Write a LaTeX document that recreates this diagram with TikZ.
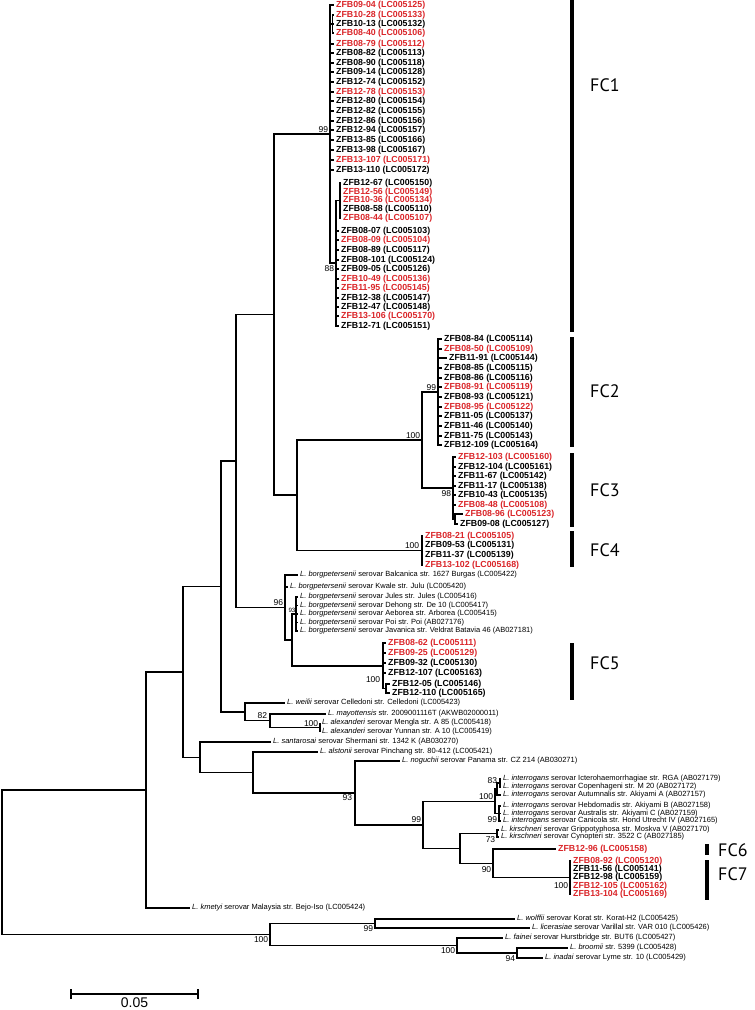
\documentclass[tikz,border=0pt]{standalone}
\usepackage{fontspec}
\setmainfont{Liberation Sans}
\newfontfamily\fcfont{PT Sans}
\definecolor{fcred}{RGB}{218,37,41}
\begin{document}
\begin{tikzpicture}[x=1pt,y=-1pt,
  br/.style={line width=1.4pt},
  zb/.style={anchor=west, inner xsep=2pt, inner ysep=0pt, font=\bfseries\fontsize{8.8}{9}\selectfont},
  zr/.style={zb, text=fcred},
  sp/.style={anchor=west, inner xsep=2pt, inner ysep=0pt, font=\fontsize{7.5}{8}\selectfont},
  bs/.style={inner sep=0.6pt, font=\fontsize{8.5}{9}\selectfont},
  bss/.style={inner sep=0.4pt, font=\fontsize{6.2}{7}\selectfont},
  fcbar/.style={line width=4.5pt},
  fclab/.style={anchor=west, inner sep=0pt, font=\fcfont\fontsize{18}{18}\selectfont}]
\useasboundingbox (0,0) rectangle (755,1010);
% ---------------- FC1 ----------------
\coordinate (f1) at (330,134);
\coordinate (s1) at (332.5,24);
\coordinate (n88) at (336,263);
\coordinate (s2) at (340,200.5);
\node[zr] (a01) at (334,5) {ZFB09-04 (LC005125)};
\node[zr] (a02) at (334,15) {ZFB10-28 (LC005133)};
\node[zb] (a03) at (334,24) {ZFB10-13 (LC005132)};
\node[zr] (a04) at (334,33) {ZFB08-40 (LC005106)};
\node[zr] (a05) at (334,44) {ZFB08-79 (LC005112)};
\node[zb] (a06) at (334,53) {ZFB08-82 (LC005113)};
\node[zb] (a07) at (334,63) {ZFB08-90 (LC005118)};
\node[zb] (a08) at (334,72) {ZFB09-14 (LC005128)};
\node[zb] (a09) at (334,82) {ZFB12-74 (LC005152)};
\node[zr] (a10) at (334,92) {ZFB12-78 (LC005153)};
\node[zb] (a11) at (334,101) {ZFB12-80 (LC005154)};
\node[zb] (a12) at (334,111) {ZFB12-82 (LC005155)};
\node[zb] (a13) at (334,121) {ZFB12-86 (LC005156)};
\node[zb] (a14) at (334,130) {ZFB12-94 (LC005157)};
\node[zb] (a15) at (334,140) {ZFB13-85 (LC005166)};
\node[zb] (a16) at (334,150) {ZFB13-98 (LC005167)};
\node[zr] (a17) at (334,160) {ZFB13-107 (LC005171)};
\node[zb] (a18) at (334,170) {ZFB13-110 (LC005172)};
\node[zb] (a19) at (341,183) {ZFB12-67 (LC005150)};
\node[zr] (a20) at (341,192) {ZFB12-56 (LC005149)};
\node[zr] (a21) at (341,200) {ZFB10-36 (LC005134)};
\node[zb] (a22) at (341,209) {ZFB08-58 (LC005110)};
\node[zr] (a23) at (341,218) {ZFB08-44 (LC005107)};
\node[zb] (a24) at (339,231) {ZFB08-07 (LC005103)};
\node[zr] (a25) at (339,240) {ZFB08-09 (LC005104)};
\node[zb] (a26) at (339,250) {ZFB08-89 (LC005117)};
\node[zb] (a27) at (339,260) {ZFB08-101 (LC005124)};
\node[zb] (a28) at (339,269) {ZFB09-05 (LC005126)};
\node[zr] (a29) at (339,279) {ZFB10-49 (LC005136)};
\node[zr] (a30) at (339,288) {ZFB11-95 (LC005145)};
\node[zb] (a31) at (339,298) {ZFB12-38 (LC005147)};
\node[zb] (a32) at (339,307) {ZFB12-47 (LC005148)};
\node[zr] (a33) at (339,316) {ZFB13-106 (LC005170)};
\node[zb] (a34) at (339,326) {ZFB12-71 (LC005151)};
\foreach \c in {a01,a05,a06,a07,a08,a09,a10,a11,a12,a13,a14,a15,a16,a17,a18} \draw[br] (f1) |- (\c.west);
\foreach \c in {a02,a03,a04} \draw[br] (s1) |- (\c.west);
\foreach \c in {a19,a20,a21,a22,a23} \draw[br] (s2) |- (\c.west);
\foreach \c in {a24,a25,a26,a27,a28,a29,a30,a31,a32,a33,a34} \draw[br] (n88) |- (\c.west);
\draw[br] (f1) |- (s1);
\draw[br] (f1) |- (n88);
\draw[br] (n88) |- (s2);
\node[bs, anchor=south east] (b99a) at (329,133) {99};
\node[bs, anchor=north east] (b88) at (335,265) {88};
% ---------------- FC2 / FC3 ----------------
\coordinate (f23) at (422,440);
\coordinate (f2) at (438,392);
\coordinate (f3) at (453,488);
\coordinate (s3) at (455,519);
\node[zb] (c01) at (442,339) {ZFB08-84 (LC005114)};
\node[zr] (c02) at (442,349) {ZFB08-50 (LC005109)};
\node[zb] (c03) at (447,358) {ZFB11-91 (LC005144)};
\node[zb] (c04) at (442,368) {ZFB08-85 (LC005115)};
\node[zb] (c05) at (442,378) {ZFB08-86 (LC005116)};
\node[zr] (c06) at (442,387) {ZFB08-91 (LC005119)};
\node[zb] (c07) at (442,397) {ZFB08-93 (LC005121)};
\node[zr] (c08) at (442,407) {ZFB08-95 (LC005122)};
\node[zb] (c09) at (442,416) {ZFB11-05 (LC005137)};
\node[zb] (c10) at (442,426) {ZFB11-46 (LC005140)};
\node[zb] (c11) at (442,436) {ZFB11-75 (LC005143)};
\node[zb] (c12) at (442,445) {ZFB12-109 (LC005164)};
\foreach \c in {c01,c02,c03,c04,c05,c06,c07,c08,c09,c10,c11,c12} \draw[br] (f2) |- (\c.west);
\node[zr] (d01) at (456,457) {ZFB12-103 (LC005160)};
\node[zb] (d02) at (456,467) {ZFB12-104 (LC005161)};
\node[zb] (d03) at (456,476) {ZFB11-67 (LC005142)};
\node[zb] (d04) at (456,486) {ZFB11-17 (LC005138)};
\node[zb] (d05) at (456,495) {ZFB10-43 (LC005135)};
\node[zr] (d06) at (456,505) {ZFB08-48 (LC005108)};
\node[zr] (d07) at (463,514) {ZFB08-96 (LC005123)};
\node[zb] (d08) at (458,524) {ZFB09-08 (LC005127)};
\foreach \c in {d01,d02,d03,d04,d05,d06} \draw[br] (f3) |- (\c.west);
\foreach \c in {d07,d08} \draw[br] (s3) |- (\c.west);
\draw[br] (f3) |- (s3);
\draw[br] (f23) |- (f2);
\draw[br] (f23) |- (f3);
\node[bs, anchor=south east] (b100a) at (421,439) {100};
\node[bs, anchor=south east] (b99b) at (437,391) {99};
\node[bs, anchor=north east] (b98) at (452,490) {98};
% ---------------- FC4 ----------------
\coordinate (f4) at (422,550.5);
\node[zr] (e01) at (423,536) {ZFB08-21 (LC005105)};
\node[zb] (e02) at (423,545.5) {ZFB09-53 (LC005131)};
\node[zb] (e03) at (423,555) {ZFB11-37 (LC005139)};
\node[zr] (e04) at (423,565) {ZFB13-102 (LC005168)};
\foreach \c in {e01,e02,e03,e04} \draw[br] (f4) |- (\c.west);
\node[bs, anchor=south east] (b100b) at (420,549) {100};
\coordinate (n297) at (297,495);
\coordinate (n274) at (274,314.5);
\draw[br] (n297) |- (f23);
\draw[br] (n297) |- (f4);
\draw[br] (n274) |- (f1);
\draw[br] (n274) |- (n297);
% ---------------- borgpetersenii / FC5 ----------------
\coordinate (n96) at (285,607.5);
\coordinate (np) at (292,640);
\coordinate (n93) at (296,614);
\coordinate (f5) at (383,666);
\coordinate (s5) at (386,688.5);
\node[sp] (g01) at (298,575) {\textit{L. borgpetersenii} serovar Balcanica str. 1627 Burgas (LC005422)};
\node[sp] (g02) at (288,587) {\textit{L. borgpetersenii} serovar Kwale str. Julu (LC005420)};
\node[sp] (g03) at (298,597) {\textit{L. borgpetersenii} serovar Jules str. Jules (LC005416)};
\node[sp] (g04) at (298,605.5) {\textit{L. borgpetersenii} serovar Dehong str. De 10 (LC005417)};
\node[sp] (g05) at (298,614) {\textit{L. borgpetersenii} serovar Aeborea str. Arborea (LC005415)};
\node[sp] (g06) at (298,622.5) {\textit{L. borgpetersenii} serovar Poi str. Poi (AB027176)};
\node[sp] (g07) at (298,631) {\textit{L. borgpetersenii} serovar Javanica str. Veldrat Batavia 46 (AB027181)};
\draw[br] (n96) |- (g01.west);
\draw[br] (n96) |- (g02.west);
\draw[br] (n96) |- (np);
\foreach \c in {g03,g04,g05,g06,g07} \draw[br] (n93) |- (\c.west);
\draw[br] (np) |- (n93);
\draw[br] (np) |- (f5);
\node[zr] (h01) at (386,643) {ZFB08-62 (LC005111)};
\node[zr] (h02) at (386,653) {ZFB09-25 (LC005129)};
\node[zb] (h03) at (386,663) {ZFB09-32 (LC005130)};
\node[zb] (h04) at (386,673) {ZFB12-107 (LC005163)};
\node[zb] (h05) at (390,684) {ZFB12-05 (LC005146)};
\node[zb] (h06) at (390,693) {ZFB12-110 (LC005165)};
\foreach \c in {h01,h02,h03,h04} \draw[br] (f5) |- (\c.west);
\foreach \c in {h05,h06} \draw[br] (s5) |- (\c.west);
\draw[br] (f5) |- (s5);
\node[bs, anchor=south east] (b96) at (284,606) {96};
\node[bss, anchor=south east] (b93a) at (296,613) {93};
\node[bs, anchor=north east] (b100c) at (381,676) {100};
\coordinate (n236) at (236,461);
\draw[br] (n236) |- (n274);
\draw[br] (n236) |- (n96);
% ---------------- weilii / alexanderi ----------------
\coordinate (nw) at (245,711.9);
\coordinate (n82) at (270,720.75);
\coordinate (nal) at (320,727.5);
\node[sp] (k01) at (285,703) {\textit{L. weilii} serovar Celledoni str. Celledoni (LC005423)};
\node[sp] (k02) at (326,714) {\textit{L. mayottensis} str. 2009001116T (AKWB02000011)};
\node[sp] (k03) at (320,723) {\textit{L. alexanderi} serovar Mengla str. A 85 (LC005418)};
\node[sp] (k04) at (320,732) {\textit{L. alexanderi} serovar Yunnan str. A 10 (LC005419)};
\draw[br] (nw) |- (k01.west);
\draw[br] (nw) |- (n82);
\draw[br] (n82) |- (k02.west);
\draw[br] (n82) |- (nal);
\draw[br] (nal) |- (k03.west);
\draw[br] (nal) |- (k04.west);
\node[bs, anchor=south east] (b82) at (268,719) {82};
\node[bs, anchor=south east] (b100d) at (319,727) {100};
\coordinate (n221) at (221,586.4);
\draw[br] (n221) |- (n236);
\draw[br] (n221) |- (nw);
% ---------------- santarosai ... kirschneri ----------------
\coordinate (nsa) at (200,757.2);
\coordinate (nas) at (253,772.5);
\coordinate (n93b) at (355,792.9);
\coordinate (n99c) at (423,824.8);
\coordinate (n100i) at (495,801.25);
\coordinate (nA) at (497,789);
\coordinate (n83) at (500,783);
\coordinate (n99d) at (499,813.5);
\coordinate (nK) at (460,848.4);
\coordinate (n73) at (497,833.5);
\coordinate (n90) at (493,863.25);
\coordinate (f7) at (570,877.5);
\node[sp] (m01) at (271,742) {\textit{L. santarosai} serovar Shermani str. 1342 K (AB030270)};
\node[sp] (m02) at (318,752) {\textit{L. alstonii} serovar Pinchang str. 80-412 (LC005421)};
\node[sp] (m03) at (400,761) {\textit{L. noguchii} serovar Panama str. CZ 214 (AB030271)};
\node[sp] (m04) at (501,779) {\textit{L. interrogans} serovar Icterohaemorrhagiae str. RGA (AB027179)};
\node[sp] (m05) at (501,787) {\textit{L. interrogans} serovar Copenhageni str. M 20 (AB027172)};
\node[sp] (m06) at (501,795) {\textit{L. interrogans} serovar Autumnalis str. Akiyami A (AB027157)};
\node[sp] (m07) at (501,806) {\textit{L. interrogans} serovar Hebdomadis str. Akiyami B (AB027158)};
\node[sp] (m08) at (501,813.5) {\textit{L. interrogans} serovar Australis str. Akiyami C (AB027159)};
\node[sp] (m09) at (501,821) {\textit{L. interrogans} serovar Canicola str. Hond Utrecht IV (AB027165)};
\node[sp] (m10) at (499,830) {\textit{L. kirschneri} serovar Grippotyphosa str. Moskva V (AB027170)};
\node[sp] (m11) at (499,837) {\textit{L. kirschneri} serovar Cynopteri str. 3522 C (AB027185)};
\node[zr] (p01) at (556,849) {ZFB12-96 (LC005158)};
\node[zr] (p02) at (571,861) {ZFB08-92 (LC005120)};
\node[zb] (p03) at (571,869) {ZFB11-56 (LC005141)};
\node[zb] (p04) at (571,877.5) {ZFB12-98 (LC005159)};
\node[zr] (p05) at (571,886) {ZFB12-105 (LC005162)};
\node[zr] (p06) at (571,894) {ZFB13-104 (LC005169)};
\draw[br] (nsa) |- (m01.west);
\draw[br] (nsa) |- (nas);
\draw[br] (nas) |- (m02.west);
\draw[br] (nas) |- (n93b);
\draw[br] (n93b) |- (m03.west);
\draw[br] (n93b) |- (n99c);
\draw[br] (n99c) |- (n100i);
\draw[br] (n99c) |- (nK);
\draw[br] (n100i) |- (nA);
\draw[br] (n100i) |- (n99d);
\draw[br] (nA) |- (n83);
\draw[br] (nA) |- (m06.west);
\draw[br] (n83) |- (m04.west);
\draw[br] (n83) |- (m05.west);
\foreach \c in {m07,m08,m09} \draw[br] (n99d) |- (\c.west);
\draw[br] (nK) |- (n73);
\draw[br] (nK) |- (n90);
\draw[br] (n73) |- (m10.west);
\draw[br] (n73) |- (m11.west);
\draw[br] (n90) |- (p01.west);
\draw[br] (n90) |- (f7);
\foreach \c in {p02,p03,p04,p05,p06} \draw[br] (f7) |- (\c.west);
\node[bs, anchor=north east] (b93b) at (353,794) {93};
\node[bs, anchor=south east] (b99c) at (422,823) {99};
\node[bs, anchor=south east] (b100e) at (494,800) {100};
\node[bs, anchor=east] (b83) at (498,781) {83};
\node[bs, anchor=east] (b99d) at (498,820) {99};
\node[bs, anchor=north east] (b73) at (496,836) {73};
\node[bs, anchor=north east] (b90) at (492,866) {90};
\node[bs, anchor=north east] (b100f) at (569,882) {100};
\coordinate (n183) at (183,671.8);
\draw[br] (n183) |- (n221);
\draw[br] (n183) |- (nsa);
% ---------------- kmetyi and root ----------------
\coordinate (n146) at (146,789.9);
\node[sp] (q01) at (190,908) {\textit{L. kmetyi} serovar Malaysia str. Bejo-Iso (LC005424)};
\draw[br] (n146) |- (n183);
\draw[br] (n146) |- (q01.west);
\coordinate (nroot) at (2,862.2);
\coordinate (nb) at (270,934.5);
\coordinate (n99w) at (375,923.5);
\coordinate (nfa) at (457,945.5);
\coordinate (n94) at (517,953);
\node[sp] (t01) at (515,919) {\textit{L. wolffii} serovar Korat str. Korat-H2 (LC005425)};
\node[sp] (t02) at (530,928) {\textit{L. licerasiae} serovar Varillal str. VAR 010 (LC005426)};
\node[sp] (t03) at (503,938) {\textit{L. fainei} serovar Hurstbridge str. BUT6 (LC005427)};
\node[sp] (t04) at (568,948) {\textit{L. broomii} str. 5399 (LC005428)};
\node[sp] (t05) at (543,958) {\textit{L. inadai} serovar Lyme str. 10 (LC005429)};
\draw[br] (nroot) |- (n146);
\draw[br] (nroot) |- (nb);
\draw[br] (nb) |- (n99w);
\draw[br] (nb) |- (nfa);
\draw[br] (n99w) |- (t01.west);
\draw[br] (n99w) |- (t02.west);
\draw[br] (nfa) |- (t03.west);
\draw[br] (nfa) |- (n94);
\draw[br] (n94) |- (t04.west);
\draw[br] (n94) |- (t05.west);
\node[bs, anchor=north east] (b100g) at (269,936) {100};
\node[bs, anchor=north east] (b99w) at (374,925) {99};
\node[bs, anchor=north east] (b100h) at (456,947) {100};
\node[bs, anchor=north east] (b94) at (516,955) {94};
% ---------------- scale bar ----------------
\coordinate (sb1) at (71,994);
\coordinate (sb2) at (198,994);
\draw[br] (sb1) -- (sb2);
\draw[br] ([yshift=-5pt]sb1) -- ([yshift=5pt]sb1);
\draw[br] ([yshift=-5pt]sb2) -- ([yshift=5pt]sb2);
\node[inner sep=0pt, font=\fontsize{14}{14}\selectfont] (sbl) at (134.5,1003) {0.05};
% ---------------- FC bars ----------------
\draw[fcbar] (572,0) -- (572,332);
\draw[fcbar] (572,337) -- (572,447);
\draw[fcbar] (572,453) -- (572,527);
\draw[fcbar] (572,531) -- (572,567);
\draw[fcbar] (572,643) -- (572,700);
\draw[fcbar] (707,844) -- (707,855);
\draw[fcbar] (707,860) -- (707,900);
\node[fclab] (fc1) at (590,85) {FC1};
\node[fclab] (fc2) at (590,391) {FC2};
\node[fclab] (fc3) at (590,490) {FC3};
\node[fclab] (fc4) at (590,550) {FC4};
\node[fclab] (fc5) at (590,663) {FC5};
\node[fclab] (fc6) at (718,850) {FC6};
\node[fclab] (fc7) at (718,874) {FC7};
\end{tikzpicture}
\end{document}
